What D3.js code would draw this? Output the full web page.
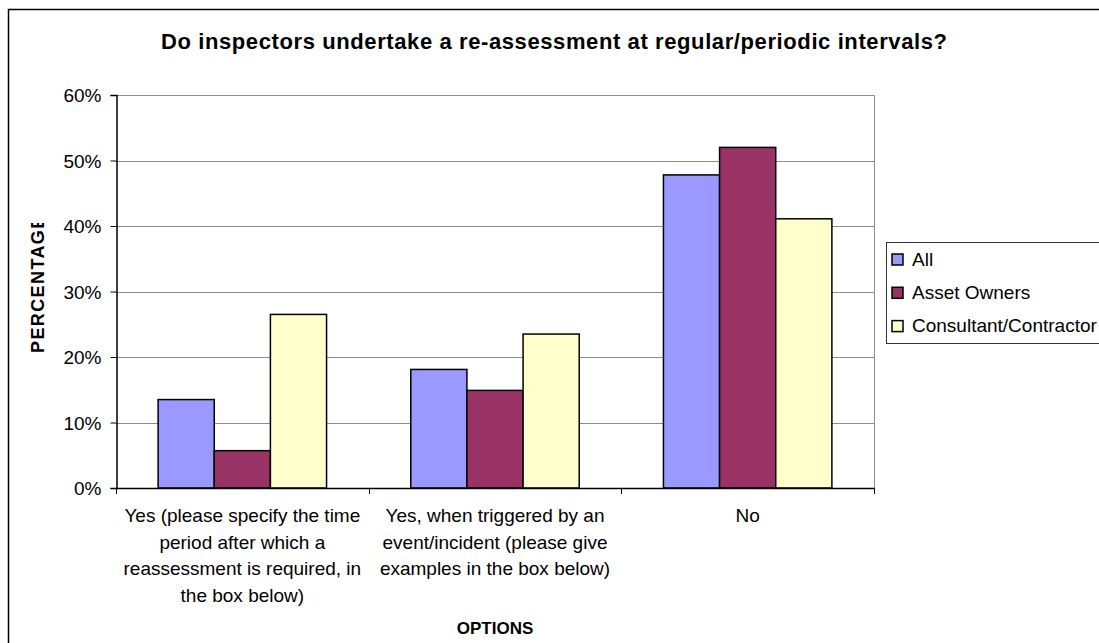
<!DOCTYPE html>
<html lang="en">
	<head>
		<meta charset="utf-8">
		<title>Re-assessment at regular/periodic intervals</title>
		<script type="text/javascript" src="https://d3js.org/d3.v7.min.js"></script>
		<style type="text/css">
			body { margin: 0; background: #fff; }
			text { font-family: "Liberation Sans", Arial, sans-serif; fill: #000; }
			.title { font-size: 22px; font-weight: bold; }
			.axisTitle { font-size: 17px; font-weight: bold; }
			.tick text { font-size: 19px; }
			.xlab { font-size: 19px; }
			.legend text { font-size: 19px; }
		</style>
	</head>
	<body>
		<script type="text/javascript">

			//categories, series and values (percent)
			var categories = ["Yes (specify period)", "Yes (when triggered)", "No"];
			var categoryLines = [
				["Yes (please specify the time", "period after which a", "reassessment is required, in", "the box below)"],
				["Yes, when triggered by an", "event/incident (please give", "examples in the box below)"],
				["No"]
			];
			var series = ["All", "Asset Owners", "Consultant/Contractor"];
			var allValues = [13.5, 18.1, 47.8];
			var ownerValues = [5.7, 14.9, 52.0];
			var consultantValues = [26.5, 23.5, 41.1];
			var yTicks = [0, 10, 20, 30, 40, 50, 60];
			var colors = ["#9999ff", "#993366", "#ffffcc"];

			var seriesValues = [allValues, ownerValues, consultantValues];

			//Width and height
			var w = 1099;
			var h = 643;
			var plotLeft = 116, plotRight = 874, plotTop = 95, plotBottom = 488;

			var svg = d3.select("body")
				.append("svg")
				.attr("width", w)
				.attr("height", h);

			//outer chart border (runs off the right/bottom edge)
			svg.append("rect")
				.attr("x", 8.5).attr("y", 9.5)
				.attr("width", 1100).attr("height", 640)
				.attr("fill", "none")
				.attr("stroke", "#000")
				.attr("stroke-width", 1.5);

			svg.append("text")
				.attr("class", "title")
				.attr("x", 554)
				.attr("y", 49)
				.attr("text-anchor", "middle")
				.attr("textLength", 786)
				.attr("lengthAdjust", "spacing")
				.text("Do inspectors undertake a re-assessment at regular/periodic intervals?");

			//scales
			var x0 = d3.scaleBand()
				.domain(categories)
				.range([plotLeft, plotRight]);
			var step = x0.bandwidth();
			var x1 = d3.scaleBand()
				.domain(series)
				.range([step / 6, step * 5 / 6]);
			var y = d3.scaleLinear()
				.domain([0, 60])
				.range([plotBottom, plotTop]);

			//gridlines
			svg.append("g")
				.selectAll("line")
				.data(yTicks.slice(1))
				.enter().append("line")
				.attr("x1", plotLeft).attr("x2", plotRight)
				.attr("y1", function(d) { return Math.round(y(d)) + 0.5; })
				.attr("y2", function(d) { return Math.round(y(d)) + 0.5; })
				.attr("stroke", "#8c8c8c")
				.attr("stroke-width", 1);

			//right border of plot area
			svg.append("line")
				.attr("x1", plotRight + 0.5).attr("x2", plotRight + 0.5)
				.attr("y1", plotTop).attr("y2", plotBottom)
				.attr("stroke", "#8c8c8c");

			//bars
			var groups = svg.append("g")
				.selectAll("g")
				.data(series)
				.enter().append("g")
				.attr("fill", function(d, i) { return colors[i]; });

			groups.selectAll("rect")
				.data(function(d, i) {
					return categories.map(function(c, j) { return { cat: c, s: d, v: seriesValues[i][j] }; });
				})
				.enter().append("rect")
				.attr("x", function(d) { return x0(d.cat) + x1(d.s); })
				.attr("y", function(d) { return y(d.v); })
				.attr("width", x1.bandwidth())
				.attr("height", function(d) { return y(0) - y(d.v); })
				.attr("stroke", "#000")
				.attr("stroke-width", 1.5);

			//y axis
			var yAxis = svg.append("g")
				.attr("transform", "translate(" + (plotLeft + 0.5) + ",0)")
				.call(d3.axisLeft(y)
					.tickValues(yTicks)
					.tickSize(6)
					.tickPadding(9)
					.tickFormat(function(d) { return d + "%"; }));
			yAxis.select(".domain").attr("stroke", "#000").attr("stroke-width", 1.5);
			yAxis.selectAll(".tick line").attr("stroke", "#000");
			yAxis.selectAll(".tick text").attr("font-family", null).attr("font-size", null).attr("dy", "0.35em");

			//x axis
			var boundaries = categories.map(function(c) { return x0(c); }).concat([plotRight]);
			svg.append("line")
				.attr("x1", plotLeft).attr("x2", plotRight + 1)
				.attr("y1", plotBottom + 0.5).attr("y2", plotBottom + 0.5)
				.attr("stroke", "#000")
				.attr("stroke-width", 1.5);
			svg.append("g")
				.selectAll("line")
				.data(boundaries)
				.enter().append("line")
				.attr("x1", function(d) { return Math.round(d) + 0.5; })
				.attr("x2", function(d) { return Math.round(d) + 0.5; })
				.attr("y1", plotBottom).attr("y2", plotBottom + 6)
				.attr("stroke", "#000");

			//wrapped category labels
			var xl = svg.append("g")
				.selectAll("text")
				.data(categories)
				.enter().append("text")
				.attr("class", "xlab")
				.attr("text-anchor", "middle")
				.attr("y", 522);
			xl.selectAll("tspan")
				.data(function(d, i) { return categoryLines[i].map(function(t) { return { t: t, c: d }; }); })
				.enter().append("tspan")
				.attr("x", function(d) { return x0(d.c) + step / 2; })
				.attr("dy", function(d, i) { return i === 0 ? 0 : 26.7; })
				.text(function(d) { return d.t; });

			//axis titles
			svg.append("text")
				.attr("class", "axisTitle")
				.attr("x", (plotLeft + plotRight) / 2)
				.attr("y", 634)
				.attr("text-anchor", "middle")
				.text("OPTIONS");

			// y title is cut off by the plot top, as in the original
			svg.append("clipPath")
				.attr("id", "yclip")
				.append("rect")
				.attr("x", 0).attr("y", 223).attr("width", 80).attr("height", 300);

			svg.append("g")
				.attr("clip-path", "url(#yclip)")
				.append("text")
				.attr("class", "axisTitle")
				.attr("font-size", 18)
				.style("font-size", "18px")
				.attr("transform", "translate(44,353) rotate(-90)")
				.attr("text-anchor", "start")
				.attr("letter-spacing", 1.4)
				.text("PERCENTAGE");

			//legend
			var lg = svg.append("g").attr("class", "legend");
			lg.append("rect")
				.attr("x", 886.5).attr("y", 242.5)
				.attr("width", 240).attr("height", 101)
				.attr("fill", "#fff")
				.attr("stroke", "#333")
				.attr("stroke-width", 1);

			var items = lg.selectAll("g.item")
				.data(series)
				.enter().append("g")
				.attr("class", "item")
				.attr("transform", function(d, i) { return "translate(892," + (254 + i * 33.3) + ")"; });
			items.append("rect")
				.attr("width", 11).attr("height", 11)
				.attr("fill", function(d, i) { return colors[i]; })
				.attr("stroke", "#000")
				.attr("stroke-width", 1.5);
			items.append("text")
				.attr("x", 20)
				.attr("y", 11.5)
				.text(function(d) { return d; });

		</script>
	</body>
</html>
